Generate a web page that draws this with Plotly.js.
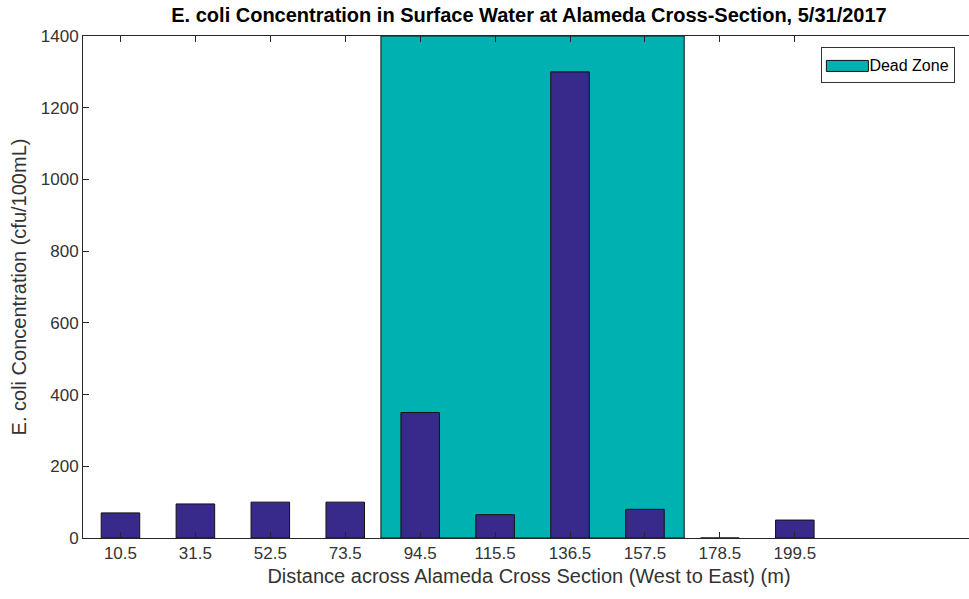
<!DOCTYPE html>
<html>
<head>
<meta charset="utf-8">
<script src="https://cdn.plot.ly/plotly-3.0.1.min.js"></script>
<style>
html,body{margin:0;padding:0;overflow:hidden;background:#fff;width:969px;height:599px;}
#chart{width:975px;height:599px;}
#chart .legend .legendpoints path{
  transform: translate(25px, 1px) scale(3.5, 0.92);
  vector-effect: non-scaling-stroke;
}
</style>
</head>
<body>
<div id="chart"></div>
<script>
// Data
const distances = [10.5, 31.5, 52.5, 73.5, 94.5, 115.5, 136.5, 157.5, 178.5, 199.5];
const ecoli = [70, 95, 100, 100, 350, 65, 1300, 80, 0, 50];
const tickLabels = ['10.5', '31.5', '52.5', '73.5', '94.5', '115.5', '136.5', '157.5', '178.5', '199.5'];
const deadZoneStart = 83.5;
const deadZoneEnd = 168.5;
const deadZoneTop = 1400;
const yTicks = [0, 200, 400, 600, 800, 1000, 1200, 1400];
const xRange = [0, 250];
const yRange = [0, 1400];

const font = 'Liberation Sans, Arial, Helvetica, sans-serif';

const deadZone = {
  type: 'bar',
  name: 'Dead Zone',
  x: [(deadZoneStart + deadZoneEnd) / 2],
  y: [deadZoneTop],
  width: [deadZoneEnd - deadZoneStart],
  marker: {color: '#00b1b1', line: {color: '#111111', width: 1}},
  showlegend: true,
  hoverinfo: 'skip'
};

const bars = {
  type: 'bar',
  name: 'E. coli',
  x: distances,
  y: ecoli,
  width: distances.map(() => 10.8),
  marker: {color: '#382a8a', line: {color: '#111111', width: 1}},
  showlegend: false
};

const layout = {
  width: 975,
  height: 599,
  margin: {l: 83, r: 0, t: 36, b: 61},
  paper_bgcolor: '#ffffff',
  plot_bgcolor: '#ffffff',
  barmode: 'overlay',
  title: {
    text: '<b>E. coli Concentration in Surface Water at Alameda Cross-Section, 5/31/2017</b>',
    font: {family: font, size: 20, color: '#000000'},
    x: 0.5, xref: 'paper', xanchor: 'center',
    y: 0.975, yref: 'container', yanchor: 'middle'
  },
  xaxis: {
    range: xRange,
    tickmode: 'array',
    tickvals: distances,
    ticktext: tickLabels,
    ticks: 'inside',
    ticklen: 6,
    tickcolor: '#262626',
    showline: true,
    linecolor: '#262626',
    linewidth: 1,
    mirror: 'ticks',
    showgrid: false,
    zeroline: false,
    tickfont: {family: font, size: 17, color: '#333333'},
    title: {text: 'Distance across Alameda Cross Section (West to East) (m)', font: {family: font, size: 20, color: '#333333'}, standoff: 6}
  },
  yaxis: {
    range: yRange,
    tickmode: 'array',
    tickvals: yTicks,
    ticks: 'inside',
    ticklen: 6,
    tickcolor: '#262626',
    showline: true,
    linecolor: '#262626',
    linewidth: 1,
    mirror: 'ticks',
    showgrid: false,
    zeroline: false,
    tickfont: {family: font, size: 17, color: '#333333'},
    title: {text: 'E. coli Concentration (cfu/100mL)', font: {family: font, size: 20, color: '#333333'}, standoff: 8}
  },
  legend: {
    x: 0.978, y: 0.978, xanchor: 'right', yanchor: 'top',
    bgcolor: '#ffffff', bordercolor: '#333333', borderwidth: 1,
    itemwidth: 37,
    font: {family: font, size: 16, color: '#000000'}
  },
  showlegend: true
};

Plotly.newPlot('chart', [deadZone, bars], layout, {displayModeBar: false, staticPlot: true});
</script>
</body>
</html>
